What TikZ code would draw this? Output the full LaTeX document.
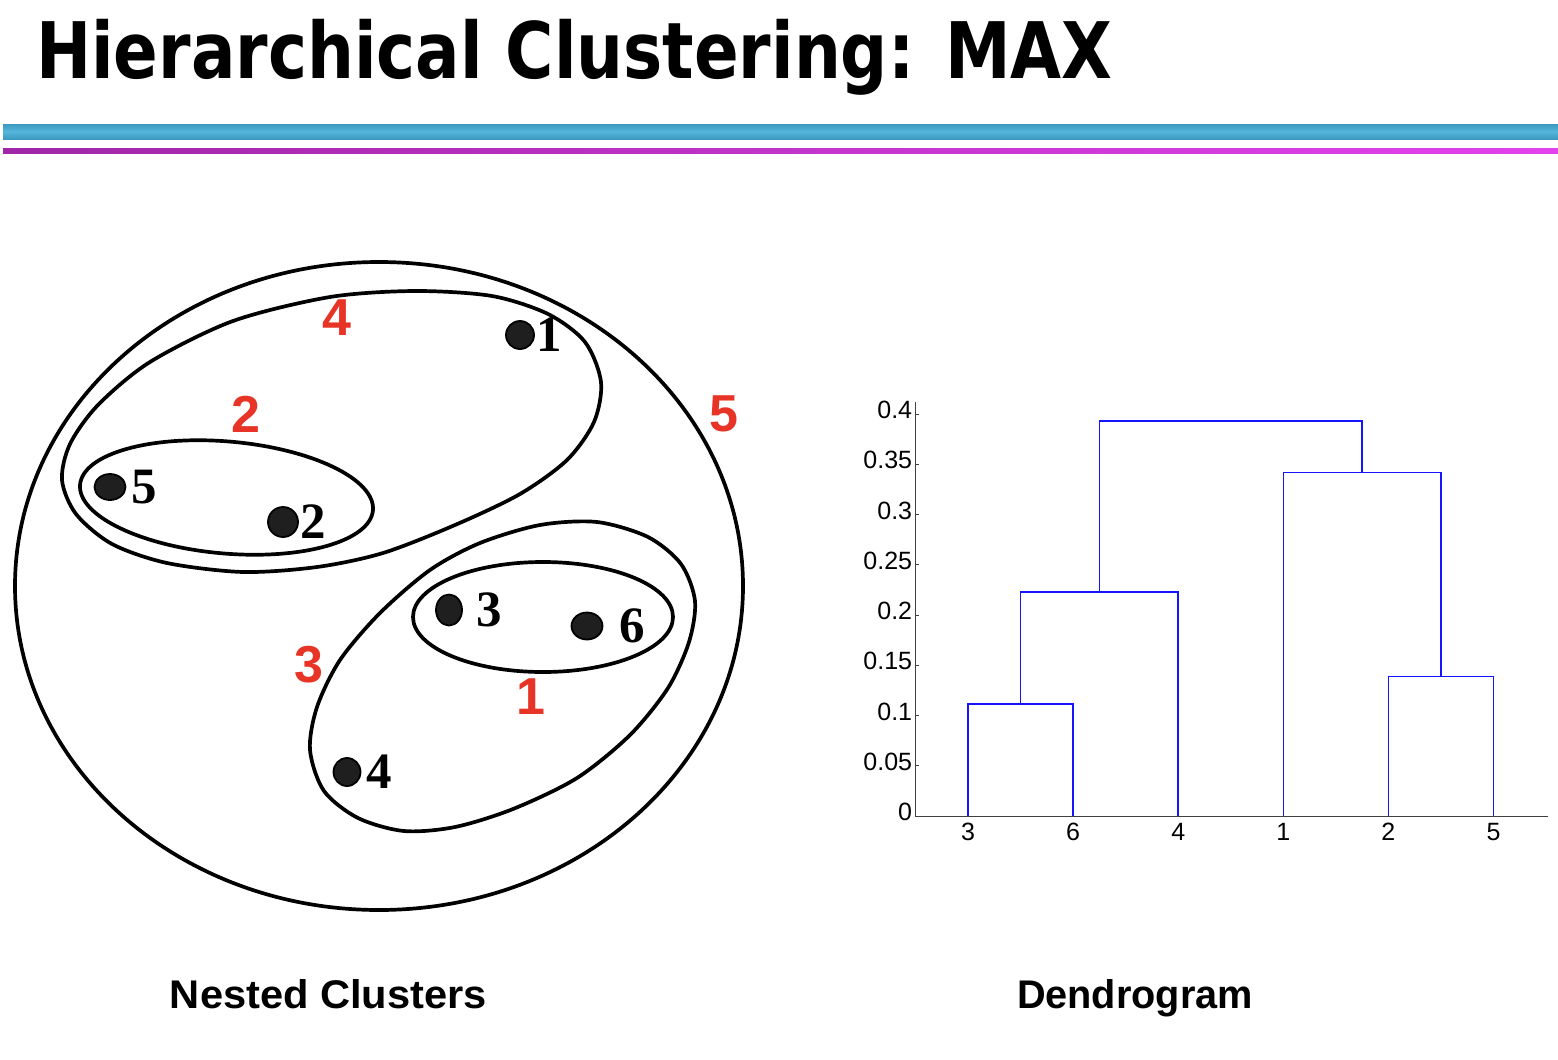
\documentclass[tikz,border=0pt]{standalone}
\usepackage{fontspec}
\usepackage{graphicx}
\usepackage{tikz}
\usetikzlibrary{positioning,shapes.geometric}
\setmainfont{Liberation Serif}
\newfontfamily\headfont{DejaVu Sans}
\newfontfamily\labfont{Liberation Sans}
\definecolor{barblue}{RGB}{84,182,218}
\definecolor{barblueD}{RGB}{62,152,192}
\definecolor{barpurpL}{RGB}{160,38,168}
\definecolor{barpurpR}{RGB}{226,66,236}
\definecolor{clred}{RGB}{232,52,38}
\definecolor{dendblue}{RGB}{20,20,255}

\begin{document}
\begin{tikzpicture}[x=1pt, y=-1pt,
    hull/.style={draw=black, line width=3.7pt},
    dot/.style 2 args={ellipse, draw=black, fill=black!88, line width=1.8pt, inner sep=0pt,
                minimum width=#1, minimum height=#2},
    ptlab/.style={inner sep=0pt, font=\fontsize{51}{51}\selectfont\bfseries},
    cllab/.style={inner sep=0pt, text=clred, font=\labfont\fontsize{52}{52}\selectfont\bfseries},
    caption/.style={inner sep=0pt, anchor=base, font=\labfont\fontsize{40}{42}\selectfont\bfseries},
    axisline/.style={draw=black!75, line width=1pt},
    ticklab/.style={inner sep=0pt, font=\labfont\fontsize{25}{25}\selectfont},
    link/.style={draw=dendblue, line width=1.5pt}]
\useasboundingbox (0,0) rectangle (1558,1060);

% header
\node[anchor=base west, inner sep=0pt, font=\headfont\bfseries\fontsize{78}{80}\selectfont] (title)
    at (36,78) {\resizebox{1076pt}{\height}{Hierarchical Clustering: MAX}};
\fill[top color=barblueD, bottom color=barblueD, middle color=barblue] (3,124) rectangle (1558,139);
\fill[left color=barpurpL, right color=barpurpR] (3,148) rectangle (1558,153);

% nested clusters
\draw[hull] (379,586) ellipse [x radius=364, y radius=324];
\draw[hull] plot[smooth cycle] coordinates {(415,291) (492,296) (548,314) (585,342) (601,382)
    (594,422) (567,460) (520,494) (455,525) (383,553) (317,567) (243,572) (167,563) (112,544)
    (76,514) (62,480) (70,444) (98,405) (150,362) (233,321) (330,297)};
\draw[hull, rotate around={-5:(226.5,497.5)}] (226.5,497.5) ellipse [x radius=147, y radius=56];
\draw[hull] (543,617) ellipse [x radius=130, y radius=55];
\draw[hull] plot[smooth cycle] coordinates {(597,522) (648,537) (681,564) (695,601) (689,642)
    (668,688) (630,735) (577,778) (513,809) (455,827) (404,831) (358,818) (324,791) (310,750)
    (317,707) (340,660) (380,613) (430,570) (480,543) (540,525)};

\node[dot={28}{28}] (p1) at (520,335) {};
\node[dot={31}{26}] (p5) at (110,487) {};
\node[dot={30}{30}] (p2) at (283,522) {};
\node[dot={26}{31}] (p3) at (449,610) {};
\node[dot={31}{27}] (p6) at (587,626) {};
\node[dot={27}{28}] (p4) at (347,772) {};
\node[ptlab, right=1pt of p1] (n1) {1};
\node[ptlab, right=5pt of p5] (n5) {5};
\node[ptlab, right=1pt of p2] (n2) {2};
\node[ptlab, right=13pt of p3] (n3) {3};
\node[ptlab, right=16pt of p6] (n6) {6};
\node[ptlab, right=5pt of p4] (n4) {4};

\node[cllab] (c1) at (531,697) {1};
\node[cllab] (c2) at (246,414) {2};
\node[cllab] (c3) at (309,665) {3};
\node[cllab] (c4) at (337,318) {4};
\node[cllab] (c5) at (724,414) {5};

% dendrogram
\begin{scope}[shift={(862.9,816)}, x=105.1pt, y=1005pt]
  \draw[axisline] (0.5,0.412) -- (0.5,0) -- (6.52,0);
  \foreach \v [count=\i] in {0,0.05,0.1,0.15,0.2,0.25,0.3,0.35,0.4} {
    \draw[axisline] (0.5,\v) -- ++(4pt,0);
    \node[ticklab, anchor=east, yshift=4pt] (yt\i) at (0.47,\v) {\v};
  }
  \foreach \lab [count=\i] in {3,6,4,1,2,5} {
    \coordinate (b\lab) at (\i,0);
    \draw[axisline] (b\lab) -- ++(0,3pt);
    \node[ticklab, below=7pt of b\lab] (x\lab) {\lab};
  }
  \coordinate (m36) at (1.5,0.1114);
  \coordinate (m364) at (2.25,0.2229);
  \coordinate (m25) at (5.5,0.139);
  \coordinate (m125) at (4.75,0.342);
  \coordinate (mtop) at (3.5,0.393);
  \draw[link] (b3) |- (m36) -| (b6);
  \draw[link] (m36) |- (m364) -| (b4);
  \draw[link] (b2) |- (m25) -| (b5);
  \draw[link] (b1) |- (m125) -| (m25);
  \draw[link] (m364) |- (mtop) -| (m125);
\end{scope}

\node[caption] (capl) at (328.5,1008) {\resizebox{317pt}{\height}{Nested Clusters}};
\node[caption] (capr) at (1135,1008) {\resizebox{236pt}{\height}{Dendrogram}};
\end{tikzpicture}
\end{document}
